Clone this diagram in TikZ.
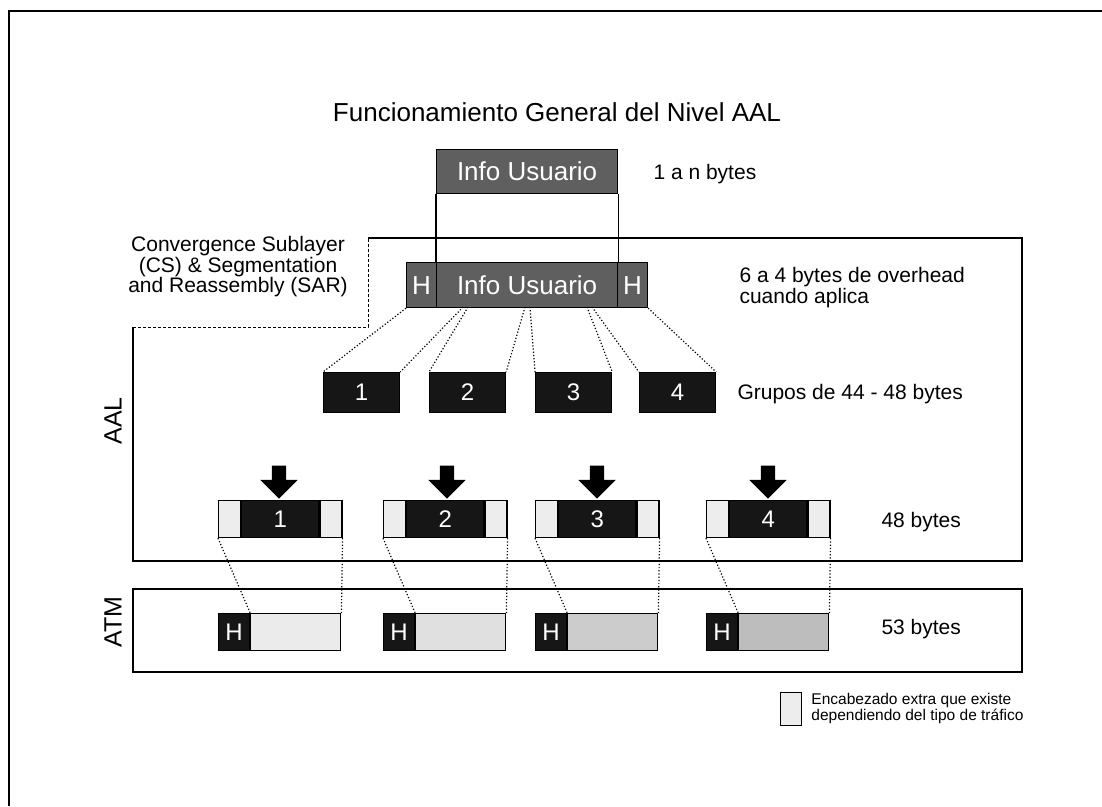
\documentclass[tikz,border=0pt]{standalone}
\usepackage{fontspec}
\setmainfont{Liberation Sans}
\usepackage{tikz}
\usetikzlibrary{positioning, shapes.arrows}
\definecolor{userfill}{RGB}{95,95,95}
\definecolor{segfill}{RGB}{22,22,22}
\colorlet{extrafill}{black!7}
\tikzset{
  cell/.style={draw, line width=1.2pt, inner sep=0pt, anchor=north west},
  usercell/.style={cell, fill=userfill, text=white, minimum height=44pt,
                   font=\fontsize{26}{26}\selectfont},
  grpcell/.style={cell, fill=segfill, text=white, minimum width=76pt,
                  minimum height=40pt, font=\fontsize{24}{24}\selectfont},
  extracell/.style={cell, fill=extrafill, minimum width=22pt, minimum height=37pt},
  segcell/.style={cell, fill=segfill, text=white, minimum width=77pt,
                  minimum height=37pt, font=\fontsize{24}{24}\selectfont},
  hcell/.style={cell, fill=segfill, text=white, minimum width=31pt,
                minimum height=37pt, font=\fontsize{24}{24}\selectfont},
  paycell/.style={cell, minimum width=90pt, minimum height=37pt},
  bigarrow/.style={single arrow, fill=black, inner sep=7pt, minimum height=33pt,
                   minimum width=37pt, single arrow head extend=11.5pt, rotate=-90},
  split/.style={dotted, line width=1.2pt},
  layer/.style={line width=1.4pt},
  sidetext/.style={font=\fontsize{21}{21}\selectfont, anchor=west, align=left},
}

\begin{document}
\begin{tikzpicture}[x=1pt, y=-1pt]
  \useasboundingbox (0,0) rectangle (1102,806);
  \draw[line width=1.8pt] (9,806) -- (9,11) -- (1102,11);
  \node[font=\fontsize{26}{30}\selectfont] (title) at (557,112)
        {Funcionamiento General del Nivel AAL};

  % datos del usuario
  \node[usercell, minimum width=181pt] (info) at (436,149) {Info Usuario};
  \node[sidetext] (range) at (650,174) {1 a n bytes};

  % marcos AAL y ATM
  \draw[layer] (368,238) -- (1022,238) -- (1022,561) -- (133,561) -- (133,327);
  \draw[dashed, dash pattern=on 3pt off 2pt, line width=1pt]
        (133,327) -- (368,327) -- (368,238);
  \draw[layer] (133,589) rectangle (1022,672);
  \node[rotate=90, font=\fontsize{25}{25}\selectfont] (aal) at (113,421) {AAL};
  \node[rotate=90, font=\fontsize{25}{25}\selectfont] (atm) at (113,622) {ATM};
  \node[font=\fontsize{21}{20.5}\selectfont, align=center] (cs) at (238,267)
        {Convergence Sublayer\\(CS) \& Segmentation\\and Reassembly (SAR)};

  % CS: cabecera + info + cola
  \node[usercell, minimum width=30pt, minimum height=45pt] (hl) at (406,262) {H};
  \node[usercell, minimum width=181pt, minimum height=45pt] (im) at (436,262) {Info Usuario};
  \node[usercell, minimum width=30pt, minimum height=45pt] (hr) at (617,262) {H};
  \draw[line width=1.2pt] (info.south west) -- (im.north west)
                          (info.south east) -- (im.north east);
  \node[sidetext] (overhead) at (736,288) {6 a 4 bytes de overhead\\cuando aplica};

  % grupos
  \foreach \n/\x in {1/323, 2/429, 3/535, 4/639}
    \node[grpcell] (g\n) at (\x,372) {\n};
  \node[sidetext] (groups) at (734,394) {Grupos de 44 - 48 bytes};
  \foreach \i/\x in {1/463, 2/468, 3/525, 4/530, 5/587, 6/592}
    \coordinate (cut\i) at (\x,307);
  \draw[split] (hl.south west) -- (g1.north west);
  \draw[split] (cut1) -- (g1.north east);
  \draw[split] (cut2) -- (g2.north west);
  \draw[split] (cut3) -- (g2.north east);
  \draw[split] (cut4) -- (g3.north west);
  \draw[split] (cut5) -- (g3.north east);
  \draw[split] (cut6) -- (g4.north west);
  \draw[split] (hr.south east) -- (g4.north east);

  % SAR: 48 bytes
  \foreach \n/\x in {1/279, 2/447, 3/597, 4/768}
    \node[bigarrow] (a\n) at (\x,478.5) {};
  \foreach \n/\x in {1/218, 2/383, 3/535, 4/706} {
    \node[extracell] (l\n) at (\x,500) {};
    \node[segcell] (m\n) at (l\n.north east) {\n};
    \node[extracell] (r\n) at (m\n.north east) {};
  }
  \node[sidetext] (sar) at (878,522) {48 bytes};

  % celdas ATM
  \foreach \n/\x/\f in {1/218/8, 2/383/12, 3/535/20, 4/706/26} {
    \node[hcell] (h\n) at (\x,613) {H};
    \node[paycell, fill=black!\f] (p\n) at (h\n.north east) {};
    \draw[split] (l\n.south west) -- (h\n.north east);
    \draw[split] (r\n.south east) -- (p\n.north east);
  }
  \node[sidetext] (cells) at (878,629) {53 bytes};

  % leyenda
  \node[extracell, draw, line width=0.9pt, minimum width=21pt, minimum height=33pt]
        (key) at (780,692) {};
  \node[right=6pt of key, font=\fontsize{15.5}{16}\selectfont, align=left] (keytext)
        {Encabezado extra que existe\\dependiendo del tipo de tr\'afico};
\end{tikzpicture}
\end{document}
